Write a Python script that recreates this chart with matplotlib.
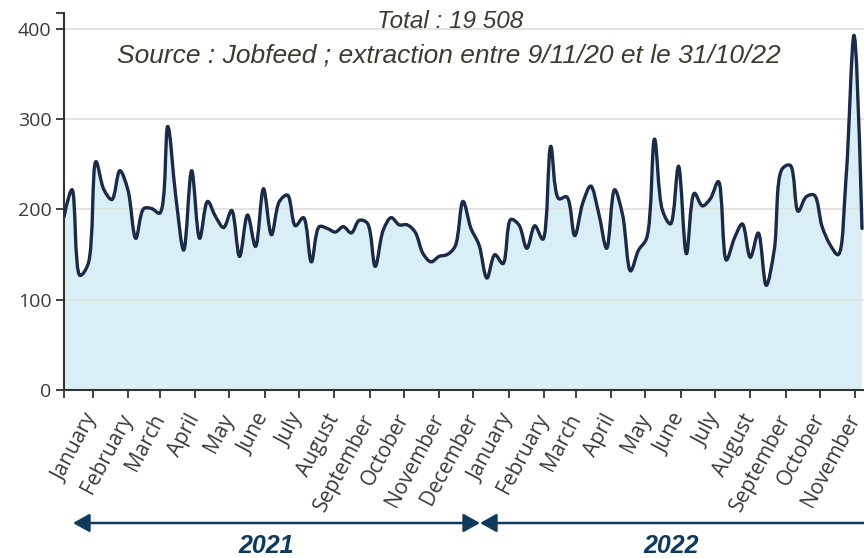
import numpy as np
import pandas as pd
import matplotlib
matplotlib.use("Agg")
import matplotlib.pyplot as plt
import matplotlib.dates as mdates
from matplotlib.path import Path
from matplotlib.patches import PathPatch

# weekly job offers, weeks starting on monday
first_week = "2020-12-07"
offres = [192, 222, 127, 139, 253, 222, 211, 243, 222, 168,
          201, 201, 196, 292, 215, 155, 243, 168, 209, 192,
          180, 199, 148, 194, 159, 223, 172, 209, 216, 182,
          191, 142, 181, 179, 175, 181, 174, 188, 185, 137,
          177, 191, 183, 183, 175, 151, 142, 148, 150, 159,
          209, 179, 161, 124, 150, 140, 189, 183, 157, 182,
          167, 270, 212, 214, 171, 207, 226, 196, 157, 222,
          194, 132, 155, 168, 278, 199, 184, 248, 151, 218,
          204, 212, 231, 144, 168, 184, 147, 174, 116, 155,
          245, 249, 198, 214, 216, 181, 161, 150, 235, 393,
          179]
weeks = pd.date_range(first_week, periods=len(offres), freq="7D")

month_ticks = pd.date_range("2021-01-01", "2022-11-01", freq="MS")
month_labels = ["January", "February", "March", "April", "May", "June",
                "July", "August", "September", "October", "November", "December",
                "January", "February", "March", "April", "May", "June",
                "July", "August", "September", "October", "November"]
y_ticks = [0, 100, 200, 300, 400]
year_labels = ["2021", "2022"]

total_txt = "Total : 19 508"
source_txt = "Source : Jobfeed ; extraction entre 9/11/20 et le 31/10/22"

# styles / layout (pixels of the 864x558 picture)
W, H = 864, 558
AX_L, AX_B, AX_T = 64, 390, 13
PX_DAY = 7.98 / 7
PX_UNIT = 0.9025
LINE_C = "#1b2a47"
FILL_C = "#d9eef5"
NAVY = "#0e3a5e"
TXT_C = "#3d3b2b"


def spline_path(px, py, smooth=1.0):
    # same construction as plotly's line_shape="spline"
    pts = np.column_stack([px, py])
    tin, tout = [], []
    for i in range(1, len(pts) - 1):
        d1 = pts[i - 1] - pts[i]
        d2 = pts[i + 1] - pts[i]
        a1 = np.hypot(*d1) ** 0.5
        a2 = np.hypot(*d2) ** 0.5
        num = (a2 * a2 * d1 - a1 * a1 * d2) * smooth
        tin.append(pts[i] + num / (3 * a2 * (a1 + a2)))
        tout.append(pts[i] - num / (3 * a1 * (a1 + a2)))
    verts = [pts[0], tin[0], pts[1]]
    codes = [Path.MOVETO, Path.CURVE3, Path.CURVE3]
    for i in range(2, len(pts) - 1):
        verts += [tout[i - 2], tin[i - 1], pts[i]]
        codes += [Path.CURVE4] * 3
    verts += [tout[-1], pts[-1]]
    codes += [Path.CURVE3] * 2
    return np.array(verts), codes


plt.rcParams['font.family'] = ['Open Sans', 'DejaVu Sans']

fig = plt.figure(figsize=(W / 100, H / 100), dpi=100)
ax = fig.add_axes([AX_L / W, 1 - AX_B / H, 1 - AX_L / W, (AX_B - AX_T) / H])

x0 = mdates.date2num(weeks[0])
xs = mdates.date2num(weeks)
ax.set_xlim(x0, x0 + (W - AX_L) / PX_DAY)
ax.set_ylim(0, (AX_B - AX_T) / PX_UNIT)

verts, codes = spline_path((xs - x0) * PX_DAY, np.array(offres) * PX_UNIT)
verts = np.column_stack([verts[:, 0] / PX_DAY + x0, verts[:, 1] / PX_UNIT])

fill_verts = np.vstack([verts, [[xs[-1], 0], [xs[0], 0], [xs[0], 0]]])
fill_codes = codes + [Path.LINETO, Path.LINETO, Path.CLOSEPOLY]
ax.add_patch(PathPatch(Path(fill_verts, fill_codes), facecolor=FILL_C,
                       edgecolor="none", zorder=0.3))
ax.add_patch(PathPatch(Path(verts, codes), facecolor="none", edgecolor=LINE_C,
                       lw=2.4, joinstyle="round", capstyle="round", zorder=3))

ax.set_axisbelow(True)
ax.grid(axis="y", color="#e2e2e2", lw=1.3)
for s in ["top", "right"]:
    ax.spines[s].set_visible(False)
for s in ["left", "bottom"]:
    ax.spines[s].set_color("#333333")
    ax.spines[s].set_linewidth(1.5)

ax.set_yticks(y_ticks)
ax.set_yticks([ax.get_ylim()[1]], minor=True)
ax.set_xticks(mdates.date2num(month_ticks))
ax.set_xticks([x0], minor=True)
ax.set_xticklabels(month_labels, rotation=62, ha="right", va="center",
                   rotation_mode="anchor")
ax.tick_params(which="both", direction="out", length=6, width=1.3,
               color="#333333", labelcolor="#3a3a3a")
ax.tick_params(axis="x", pad=12, labelsize=15)
ax.tick_params(axis="y", pad=3, labelsize=14)

fig.text(450 / W, 1 - 28 / H, total_txt, ha="center", va="baseline",
         style="italic", family="Liberation Sans", size=17.5, color=TXT_C)
fig.text(449 / W, 1 - 62 / H, source_txt, ha="center", va="baseline",
         style="italic", family="Liberation Sans", size=19, color=TXT_C)

# year arrows under the month labels
arrow_y = 1 - 523 / H
for xa, xb in [(73, 480), (480, 920)]:
    ax.annotate("", xy=(xb / W, arrow_y), xytext=(xa / W, arrow_y),
                xycoords="figure fraction",
                arrowprops=dict(arrowstyle="<|-|>,head_length=0.5,head_width=0.28",
                                color=NAVY, lw=1.8, shrinkA=0, shrinkB=0,
                                mutation_scale=20))
for lab, xc in zip(year_labels, [266, 671]):
    fig.text(xc / W, 1 - 553 / H, lab, ha="center", va="baseline",
             weight="bold", style="italic", family="Liberation Sans",
             size=18, color=NAVY)

fig.savefig("out.png", dpi=100)
